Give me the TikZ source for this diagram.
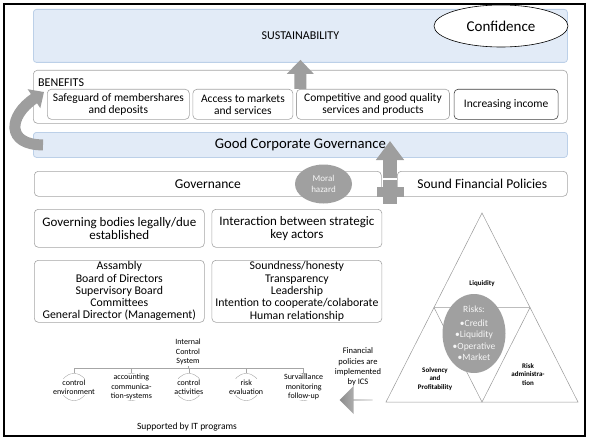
\documentclass[tikz,border=0pt]{standalone}
\usepackage{fontspec}
\setmainfont{Carlito}
\usetikzlibrary{positioning,calc,shapes.geometric,shapes.arrows,arrows.meta}

\definecolor{paleblue}{RGB}{226,235,247}
\definecolor{blueline}{RGB}{188,208,232}
\definecolor{boxline}{RGB}{165,165,165}
\definecolor{arrowgray}{RGB}{158,158,158}
\definecolor{riskgray}{RGB}{160,160,160}
\newcommand{\fsz}[2]{\fontsize{#1}{#2}\selectfont}

\begin{document}
\begin{tikzpicture}[x=1pt,y=-1pt,
	bluebox/.style={draw=blueline,fill=paleblue,rounded corners=3pt,line width=0.8pt,anchor=north west,inner sep=0pt},
	whitebox/.style={draw=boxline,fill=white,rounded corners=4pt,line width=0.6pt,anchor=north west,inner sep=1pt,align=center},
	benitem/.style={whitebox,minimum height=30pt,font=\fsz{11.5}{12}},
	part/.style={circle,draw=gray!70,line width=0.4pt,minimum size=27pt,inner sep=0pt},
	partlabel/.style={fill=white,inner sep=0.3pt,align=center,font=\fsz{8}{9.5}},
	tri/.style={draw=gray!80,line width=0.5pt},
	trilabel/.style={align=center,font=\bfseries\fsz{7}{8.5}}]

	\useasboundingbox (0,0) rectangle (592,444);
	\draw[line width=1.8pt] (4,4) rectangle (585,436);

	\node[bluebox,minimum width=534pt,minimum height=53pt,font=\fsz{12}{14}] (sust) at (33,9) {SUSTAINABILITY};
	\node[ellipse,draw,fill=white,line width=0.6pt,minimum width=134pt,minimum height=42pt,font=\fsz{15}{16}] (conf) at (501,26) {Confidence};

	\node[whitebox,minimum width=534pt,minimum height=53pt] (benefits) at (33,70) {};
	\node[anchor=west,inner sep=0pt,font=\fsz{12}{13}] (bentitle) at (38,83) {BENEFITS};
	\node[benitem,minimum width=142pt] (safe) at (47,89) {Safeguard of membershares\\and deposits};
	\node[benitem,minimum width=100pt,right=3pt of safe] (access) {Access to markets\\and services};
	\node[benitem,minimum width=153pt,right=3pt of access] (compet) {Competitive and good quality\\services and products};
	\node[benitem,minimum width=104pt,draw=black!75,right=4pt of compet] (income) {Increasing income};

	\node[bluebox,minimum width=534pt,minimum height=25pt,font=\fsz{14.7}{16}] (gcg) at (33,132) {Good Corporate Governance};

	\node[whitebox,minimum width=347pt,minimum height=25pt,font=\fsz{13.5}{14}] (gov) at (34,171) {Governance};
	\node[whitebox,minimum width=170pt,minimum height=25pt,font=\fsz{13.5}{14}] (sfp) at (397,171) {Sound Financial Policies};
	\node[ellipse,fill=riskgray,text=white!92!gray,minimum width=57pt,minimum height=39pt,inner sep=0pt,align=center,font=\fsz{9}{11}] (hazard) at (323.5,184) {Moral\\hazard};

	\coordinate (plus) at (390,192);
	\fill[arrowgray] ($(plus)+(-7,-12)$) rectangle ($(plus)+(7,12)$);
	\fill[arrowgray] ($(plus)+(-13.5,-5)$) rectangle ($(plus)+(13.5,5)$);
	\draw[arrowgray,line width=14pt,-{Triangle[length=19pt,width=27pt]}] ($(plus)+(0,-14)$) -- ($(plus |- gcg.north)+(0,9)$);
	\draw[arrowgray,line width=12pt,-{Triangle[length=14pt,width=26pt]}] ([yshift=-19pt]benefits.north) -- ([yshift=3pt]sust.south);
	\draw[arrowgray,line width=11pt,-{Triangle[length=12pt,width=22pt]}] ([xshift=10pt]gcg.west) .. controls (6,145) and (8,116) .. ([shift={(-3pt,-3pt)}]safe.north west);

	\node[whitebox,minimum width=170pt,minimum height=38pt,font=\fsz{13}{12.5}] (bodies) at (34,209) {Governing bodies legally/due\\established};
	\node[whitebox,minimum width=170pt,minimum height=38pt,font=\fsz{13}{12.5},right=7pt of bodies] (actors) {Interaction between strategic\\key actors};
	\node[whitebox,minimum width=170pt,minimum height=62pt,inner ysep=0pt,font=\fsz{11.8}{12.3}] (organs) at (34,260) {Assambly\\Board of Directors\\Supervisory Board\\Committees\\General Director (Management)};
	\node[whitebox,minimum width=170pt,minimum height=62pt,inner ysep=0pt,font=\fsz{11.8}{12.3},right=7pt of organs] (values) {Soundness/honesty\\Transparency\\Leadership\\Intention to cooperate/colaborate\\Human relationship};

	\node[align=center,inner sep=1pt,font=\fsz{8}{9.5}] (ics) at (188,352) {Internal\\Control\\System};
	\node[part] (env) at (74,387) {};
	\node[part,right=30pt of env] (acct) {};
	\node[part,right=30pt of acct] (act) {};
	\node[part,right=30pt of act] (risk) {};
	\node[part,right=30pt of risk] (surv) {};
	\draw[gray!70,line width=0.4pt] (ics.south) -- ++(0,2) coordinate (bar);
	\foreach \c in {env,acct,act,risk,surv}
		\draw[gray!70,line width=0.4pt] (bar) -| (\c.north);
	\node[partlabel] (envtext) at (env) {control\\environment};
	\node[partlabel] (accttext) at (acct) {accounting\\communica-\\tion-systems};
	\node[partlabel] (acttext) at (act) {control\\activities};
	\node[partlabel] (risktext) at (risk) {risk\\evaluation};
	\node[partlabel] (survtext) at (surv) {Survaillance\\monitoring\\follow-up};

	\node[align=center,font=\fsz{8.5}{10.3}] (fintext) at (358,367) {Financial\\policies are\\implemented\\by ICS};
	\node[single arrow,shape border rotate=180,minimum height=33pt,minimum width=28pt,single arrow head extend=4pt,inner sep=0pt,left color=gray!90,right color=gray!30] (finarrow) at (356.5,400) {};
	\node[font=\fsz{9.5}{11}] (itprog) at (187,427) {Supported by IT programs};

	\coordinate (ta) at (482,213);
	\coordinate (tb) at (386,402);
	\coordinate (tc) at (578,402);
	\draw[tri] (ta) -- (tb) -- (tc) -- cycle;
	\draw[tri] ($(ta)!0.5!(tb)$) -- ($(ta)!0.5!(tc)$) -- ($(tb)!0.5!(tc)$) -- cycle;
	\node[ellipse,fill=riskgray,text=white!92!gray,minimum width=63pt,minimum height=79pt,inner sep=0pt,align=center,font=\fsz{9.5}{11.5}] (risks) at (474,333.5) {Risks:\\[2pt]\textbullet Credit\\\textbullet Liquidity\\\textbullet Operative\\\textbullet Market};
	\node[trilabel] (liq) at (482,284) {Liquidity};
	\node[trilabel] (solv) at (435,379) {Solvency\\and\\Profitability};
	\node[trilabel] (riskadm) at (528,374.5) {Risk\\administra-\\tion};
\end{tikzpicture}
\end{document}
